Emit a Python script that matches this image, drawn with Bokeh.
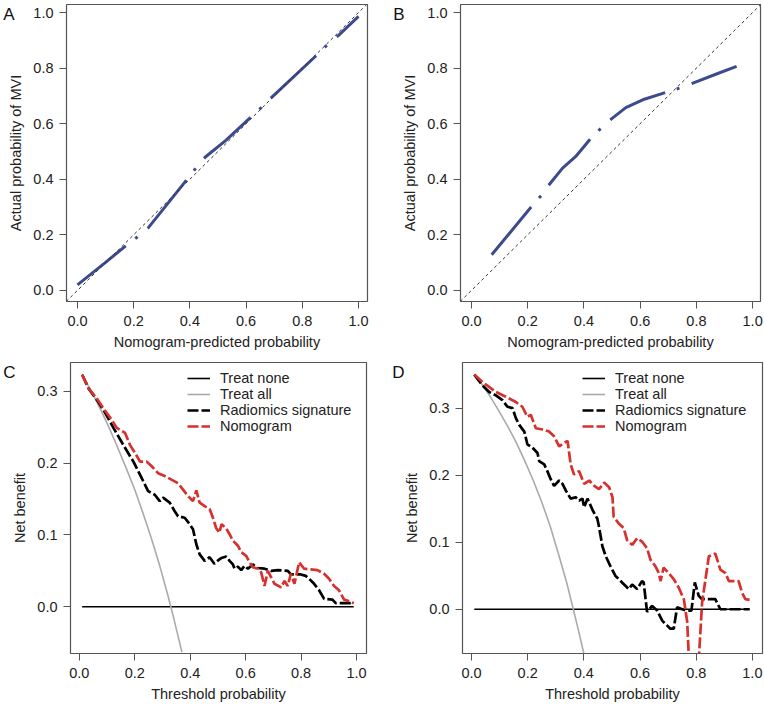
from bokeh.plotting import figure
from bokeh.models import (Range1d, FixedTicker, PrintfTickFormatter, Slope, LinearAxis,
                          CustomJSTickFormatter, Legend, LegendItem)
from bokeh.layouts import row, column
from bokeh.embed import file_html
from bokeh.resources import INLINE

# ---------------- data ----------------
ticks01 = [0.0, 0.2, 0.4, 0.6, 0.8, 1.0]
ticks_nb = [0.0, 0.1, 0.2, 0.3]

cal_a_x = [0.0, 0.10, 0.174, 0.213, 0.251, 0.316, 0.387, 0.422, 0.455, 0.528, 0.623,
           0.658, 0.691, 0.856, 0.892, 0.928, 1.0]
cal_a_y = [0.020, 0.101, 0.162, 0.192, 0.224, 0.306, 0.396, 0.441, 0.480, 0.540, 0.629,
           0.662, 0.695, 0.851, 0.887, 0.917, 0.986]

cal_b_x = [0.072, 0.217, 0.250, 0.276, 0.324, 0.371, 0.425, 0.463, 0.499, 0.549, 0.609,
           0.701, 0.747, 0.792, 0.869, 0.943]
cal_b_y = [0.128, 0.306, 0.344, 0.380, 0.440, 0.482, 0.548, 0.586, 0.618, 0.658, 0.686,
           0.716, 0.730, 0.748, 0.778, 0.806]

none_x = [0.01, 0.99]
none_y = [0.0, 0.0]

c_all_x = [0.01, 0.05, 0.08, 0.11, 0.14, 0.17, 0.20, 0.23, 0.26, 0.29, 0.32, 0.34, 0.37]
c_all_y = [0.323, 0.295, 0.272, 0.247, 0.220, 0.192, 0.163, 0.130, 0.095, 0.057, 0.015,
           -0.015, -0.063]

c_rad_x = [0.01, 0.033, 0.063, 0.09, 0.123, 0.159, 0.195, 0.225, 0.248, 0.272, 0.290, 0.302,
           0.326, 0.344, 0.356, 0.380, 0.398, 0.410, 0.422, 0.434, 0.452, 0.470, 0.487, 0.505,
           0.513, 0.530, 0.542, 0.554, 0.560, 0.572, 0.584, 0.596, 0.608, 0.626, 0.644, 0.668,
           0.692, 0.716, 0.752, 0.763, 0.799, 0.817, 0.829, 0.847, 0.865, 0.883, 0.913, 0.925,
           0.972, 0.99]
c_rad_y = [0.323, 0.304, 0.288, 0.272, 0.249, 0.225, 0.202, 0.179, 0.161, 0.156, 0.147, 0.152,
           0.145, 0.133, 0.126, 0.124, 0.115, 0.108, 0.087, 0.073, 0.064, 0.069, 0.060, 0.066,
           0.068, 0.070, 0.064, 0.059, 0.053, 0.056, 0.051, 0.057, 0.053, 0.059, 0.054, 0.053,
           0.050, 0.051, 0.050, 0.045, 0.045, 0.043, 0.039, 0.032, 0.023, 0.011, 0.010, 0.005,
           0.005, 0.005]

c_nom_x = [0.01, 0.033, 0.063, 0.087, 0.117, 0.135, 0.165, 0.183, 0.201, 0.219, 0.243, 0.260,
           0.284, 0.308, 0.332, 0.356, 0.374, 0.392, 0.410, 0.422, 0.434, 0.452, 0.470, 0.482,
           0.493, 0.505, 0.513, 0.530, 0.542, 0.554, 0.572, 0.584, 0.602, 0.614, 0.626, 0.644,
           0.656, 0.668, 0.680, 0.692, 0.704, 0.728, 0.740, 0.752, 0.763, 0.776, 0.793, 0.811,
           0.859, 0.883, 0.901, 0.919, 0.937, 0.955, 0.978, 0.99]
c_nom_y = [0.323, 0.304, 0.290, 0.276, 0.260, 0.249, 0.242, 0.225, 0.214, 0.202, 0.202, 0.196,
           0.186, 0.182, 0.177, 0.172, 0.163, 0.154, 0.147, 0.162, 0.145, 0.140, 0.136, 0.124,
           0.110, 0.103, 0.115, 0.109, 0.101, 0.092, 0.085, 0.076, 0.071, 0.062, 0.055, 0.053,
           0.048, 0.029, 0.050, 0.041, 0.032, 0.027, 0.036, 0.029, 0.046, 0.032, 0.062, 0.053,
           0.051, 0.046, 0.039, 0.029, 0.023, 0.010, 0.007, 0.005]

d_all_x = [0.01, 0.04, 0.07, 0.10, 0.13, 0.16, 0.19, 0.22, 0.25, 0.28, 0.31, 0.34, 0.36,
           0.38, 0.40]
d_all_y = [0.350, 0.334, 0.315, 0.294, 0.272, 0.248, 0.221, 0.192, 0.160, 0.124, 0.082,
           0.038, 0.004, -0.030, -0.066]

d_rad_x = [0.01, 0.039, 0.063, 0.087, 0.110, 0.128, 0.146, 0.158, 0.170, 0.188, 0.199, 0.217,
           0.235, 0.241, 0.259, 0.270, 0.282, 0.294, 0.312, 0.324, 0.336, 0.353, 0.371, 0.383,
           0.395, 0.401, 0.413, 0.431, 0.448, 0.454, 0.466, 0.478, 0.495, 0.512, 0.536, 0.560,
           0.572, 0.590, 0.607, 0.613, 0.625, 0.643, 0.661, 0.679, 0.696, 0.708, 0.720, 0.732,
           0.750, 0.768, 0.783, 0.795, 0.809, 0.821, 0.868, 0.886, 0.99]
d_rad_y = [0.350, 0.334, 0.324, 0.319, 0.312, 0.302, 0.300, 0.285, 0.275, 0.265, 0.246, 0.241,
           0.233, 0.221, 0.216, 0.206, 0.194, 0.184, 0.192, 0.187, 0.177, 0.165, 0.167, 0.162,
           0.165, 0.152, 0.165, 0.148, 0.135, 0.123, 0.094, 0.079, 0.064, 0.050, 0.040, 0.030,
           0.037, 0.030, 0.042, 0.040, -0.004, 0.005, -0.002, -0.017, -0.024, -0.029, -0.029, 0.003,
           0.0, -0.002, -0.002, 0.040, 0.020, 0.015, 0.015, 0.0, 0.0]

d_nom_x = [0.01, 0.039, 0.087, 0.122, 0.158, 0.181, 0.199, 0.211, 0.229, 0.253, 0.276, 0.294,
           0.312, 0.330, 0.342, 0.353, 0.365, 0.383, 0.401, 0.419, 0.437, 0.454, 0.472, 0.490,
           0.502, 0.506, 0.524, 0.542, 0.554, 0.572, 0.590, 0.607, 0.625, 0.637, 0.655, 0.667,
           0.673, 0.684, 0.702, 0.720, 0.738, 0.756, 0.768, 0.779, 0.803, 0.821, 0.845, 0.868,
           0.886, 0.904, 0.916, 0.951, 0.963, 0.975, 0.99]
d_nom_y = [0.350, 0.339, 0.324, 0.317, 0.309, 0.302, 0.287, 0.290, 0.270, 0.268, 0.265, 0.258,
           0.243, 0.248, 0.251, 0.216, 0.201, 0.206, 0.187, 0.192, 0.184, 0.179, 0.189, 0.182,
           0.167, 0.138, 0.128, 0.121, 0.103, 0.096, 0.106, 0.101, 0.091, 0.074, 0.064, 0.054,
           0.042, 0.062, 0.054, 0.045, 0.032, 0.015, -0.019, -0.12, -0.12, 0.010, 0.079, 0.083,
           0.059, 0.054, 0.042, 0.042, 0.025, 0.015, 0.014]

legend_labels = ["Treat none", "Treat all", "Radiomics signature", "Nomogram"]
panel_letters = ["A", "B", "C", "D"]

# ---------------- styling ----------------
FONT = "Liberation Sans"
TXT = "#222222"
BLUE = "#3d4a8c"
RED = "#d7312e"
GRAY = "#aaaaaa"


def make_fig(w, h, xr, yr, bl, br, bt, bb, yticks, xlabel, ylabel):
    p = figure(width=w, height=h, x_range=Range1d(*xr), y_range=Range1d(*yr),
               output_backend="svg", toolbar_location=None,
               min_border_left=bl, min_border_right=br,
               min_border_top=bt, min_border_bottom=bb)
    p.outline_line_color = "#555555"
    p.outline_line_width = 1.2
    p.grid.visible = False
    p.background_fill_color = "white"
    p.border_fill_color = "white"
    for ax in (p.xaxis[0], p.yaxis[0]):
        ax.axis_line_color = None
        ax.major_tick_out = 7
        ax.major_tick_in = 0
        ax.minor_tick_out = 0
        ax.minor_tick_in = 0
        ax.major_tick_line_color = "#555555"
        ax.major_label_text_font = FONT
        ax.major_label_text_font_size = "14.5px"
        ax.major_label_text_color = TXT
        ax.axis_label_text_font = FONT
        ax.axis_label_text_font_size = "14.5px"
        ax.axis_label_text_font_style = "normal"
        ax.axis_label_text_color = TXT
        ax.formatter = PrintfTickFormatter(format="%.1f")
    p.xaxis[0].major_label_standoff = 7
    p.xaxis[0].axis_label_standoff = 5
    p.yaxis[0].major_label_standoff = 6
    p.yaxis[0].axis_label_standoff = 6
    p.xaxis[0].ticker = FixedTicker(ticks=ticks01)
    p.yaxis[0].ticker = FixedTicker(ticks=yticks)
    p.xaxis[0].axis_label = xlabel
    p.yaxis[0].axis_label = ylabel
    return p


def panel_letter(p, text, y, standoff):
    # an extra, bare left axis carrying the panel letter as its single tick label;
    # a negative standoff lets the letter sit over the outer edge of the y-axis area
    ax = LinearAxis(ticker=FixedTicker(ticks=[y]),
                    formatter=CustomJSTickFormatter(code="return '%s'" % text),
                    axis_line_color=None, major_tick_line_color=None,
                    minor_tick_line_color=None, major_tick_out=0, major_tick_in=0,
                    minor_tick_out=0, minor_tick_in=0, major_label_standoff=standoff,
                    major_label_text_font=FONT, major_label_text_font_size="17px",
                    major_label_text_color="#111111")
    p.add_layout(ax, "left")


def calib(p, xs, ys):
    p.add_layout(Slope(gradient=1, y_intercept=0, line_color="#333333",
                       line_width=1, line_dash="3 3"))
    p.line(xs, ys, line_color=BLUE, line_width=3, line_dash="62 12 3 13")


def dca(p, all_x, all_y, rad_x, rad_y, nom_x, nom_y, lx, ly):
    r_none = p.line(none_x, none_y, line_color="black", line_width=1.6)
    r_all = p.line(all_x, all_y, line_color=GRAY, line_width=1.6)
    r_rad = p.line(rad_x, rad_y, line_color="black", line_width=2.7, line_dash="11 3")
    r_nom = p.line(nom_x, nom_y, line_color=RED, line_width=2.7, line_dash="11 3")
    items = [LegendItem(label=l, renderers=[r])
             for l, r in zip(legend_labels, [r_none, r_all, r_rad, r_nom])]
    lg = Legend(items=items, location=(lx, ly), padding=0, spacing=0, margin=0,
                label_text_font=FONT, label_text_font_size="14.5px",
                label_text_color=TXT, label_height=16, glyph_height=16,
                glyph_width=23, label_standoff=10, border_line_color=None,
                background_fill_alpha=0)
    p.add_layout(lg)


# Panel A
pa = make_fig(382, 354, (-0.039, 1.032), (-0.040, 1.029), 65, 15, 4, 53, ticks01,
              "Nomogram-predicted probability", "Actual probability of MVI")
calib(pa, cal_a_x, cal_a_y)
panel_letter(pa, panel_letters[0], 0.993, -9)

# Panel B
pb = make_fig(382, 354, (-0.039, 1.028), (-0.040, 1.029), 78, 4, 4, 53, ticks01,
              "Nomogram-predicted probability", "Actual probability of MVI")
calib(pb, cal_b_x, cal_b_y)
panel_letter(pb, panel_letters[1], 0.993, -5)

# Panel C
pc = make_fig(382, 350, (-0.032, 1.036), (-0.065, 0.340), 68, 16, 8, 50, ticks_nb,
              "Threshold probability", "Net benefit")
dca(pc, c_all_x, c_all_y, c_rad_x, c_rad_y, c_nom_x, c_nom_y, 117, 219)
panel_letter(pc, panel_letters[2], 0.326, -6)

# Panel D
pd_ = make_fig(382, 350, (-0.032, 1.036), (-0.066, 0.368), 80, 2, 8, 50, ticks_nb,
               "Threshold probability", "Net benefit")
dca(pd_, d_all_x, d_all_y, d_rad_x, d_rad_y, d_nom_x, d_nom_y, 120, 219)
panel_letter(pd_, panel_letters[3], 0.353, -3)

layout = column(row(pa, pb), row(pc, pd_))

open("out.html", "w").write(file_html(layout, INLINE))
